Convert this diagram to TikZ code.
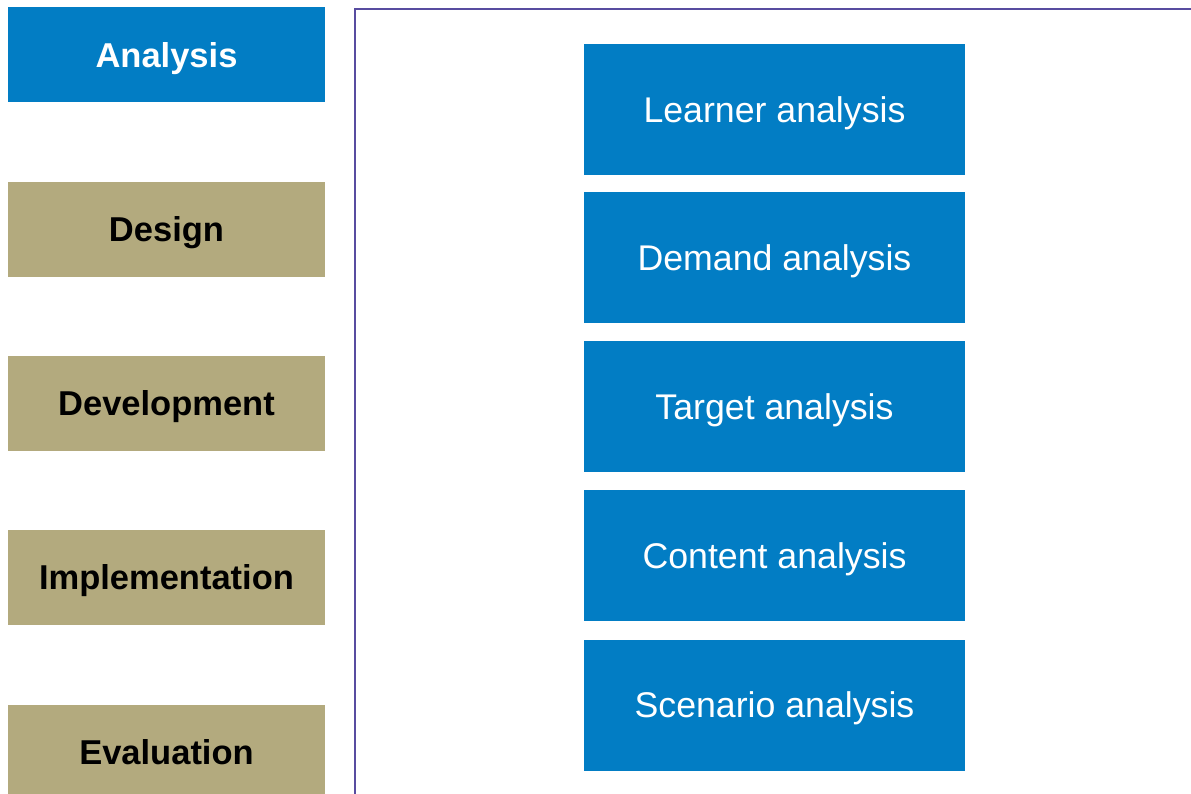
\documentclass[tikz,border=0pt]{standalone}
\usepackage{fontspec}
\setmainfont{Liberation Sans}
\definecolor{addieblue}{RGB}{2,125,196}
\definecolor{addietan}{RGB}{179,170,126}
\definecolor{panelline}{RGB}{88,76,160}
\tikzset{
  phase/.style={rectangle, inner sep=0pt, minimum width=317pt, minimum height=95pt,
    text height=24.7pt, text depth=0pt,
    font=\fontsize{34.5}{40}\selectfont\bfseries},
  active/.style={phase, fill=addieblue, text=white},
  idle/.style={phase, fill=addietan, text=black},
  task/.style={rectangle, inner sep=0pt, minimum width=381pt, minimum height=131pt,
    text height=25.6pt, text depth=0pt,
    fill=addieblue, text=white, font=\fontsize{35.7}{42}\selectfont},
}
\begin{document}
\begin{tikzpicture}[x=1pt,y=-1pt]
\useasboundingbox (0,0) rectangle (1191,794);
\clip (0,0) rectangle (1191,794);
\fill[white] (0,0) rectangle (1191,794);
% panel
\draw[panelline, line width=1.5pt] (355,800) -- (355,9) -- (1195,9);
% left phases
\node[active] (analysis) at (166.5,55) {Analysis};
\node[idle] (design) at (166.5,229.5) {Design};
\node[idle] (development) at (166.5,403.5) {Development};
\node[idle] (implementation) at (166.5,577.5) {Implementation};
\node[idle] (evaluation) at (166.5,752.5) {Evaluation};
% right tasks
\node[task] (learner) at (774.5,109.5) {Learner analysis};
\node[task] (demand) at (774.5,257.5) {Demand analysis};
\node[task] (target) at (774.5,406.5) {Target analysis};
\node[task] (content) at (774.5,555.5) {Content analysis};
\node[task] (scenario) at (774.5,705) {Scenario analysis};
\end{tikzpicture}
\end{document}
